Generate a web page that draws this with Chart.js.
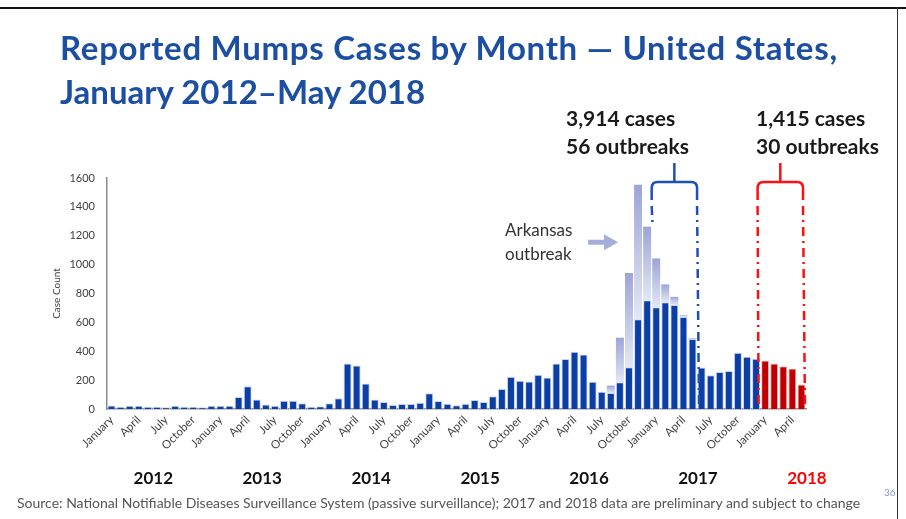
<!DOCTYPE html>
<html>
<head>
<meta charset="utf-8">
<script src="https://cdn.jsdelivr.net/npm/chart.js@4/dist/chart.umd.min.js"></script>
<style>
  body { margin: 0; background: #fff; }
  #wrap { position: relative; width: 906px; height: 519px; overflow: hidden; font-family: Lato, "Open Sans", sans-serif; }
  canvas { position: absolute; left: 0; top: 0; }
  .txt { position: absolute; white-space: nowrap; }
  #title { left: 60px; top: 25px; font-size: 33px; line-height: 44px; font-weight: bold; color: #1c4fa1; }
  #title .l1 { letter-spacing: 0.7px; }
  .note { font-size: 21px; line-height: 28px; font-weight: bold; color: #1a1a1a; top: 104px; }
  #ark { left: 505px; top: 218px; font-size: 17px; line-height: 24px; color: #333; }
  #source { left: 17px; top: 494px; font-size: 14px; color: #555; }
  #page { left: 884px; top: 486px; font-size: 10px; color: #8a98c8; }
  #topline { position: absolute; left: 0; top: 7px; width: 906px; height: 2px; background: #111; }
  #rightline { position: absolute; left: 897px; top: 7px; width: 1px; height: 512px; background: #333; }
</style>
</head>
<body>
<div id="wrap">
  <canvas id="chart" width="906" height="519"></canvas>
  <div id="topline"></div>
  <div id="rightline"></div>
  <div id="title" class="txt"><span class="l1">Reported Mumps Cases by Month — United States,</span><br>January 2012–May 2018</div>
  <div class="txt note" style="left:566px">3,914 cases<br>56 outbreaks</div>
  <div class="txt note" style="left:756px">1,415 cases<br>30 outbreaks</div>
  <div id="ark" class="txt">Arkansas<br>outbreak</div>
  <div id="source" class="txt">Source: National Notifiable Diseases Surveillance System (passive surveillance); 2017 and 2018 data are preliminary and subject to change</div>
  <div id="page" class="txt">36</div>
</div>
<script>
// monthly case counts
const years = [2012, 2013, 2014, 2015, 2016, 2017, 2018];
const monthNames = ["January","February","March","April","May","June","July","August","September","October","November","December"];
const tickLabels = ["January", "April", "July", "October"];
const yTicks = [0, 200, 400, 600, 800, 1000, 1200, 1400, 1600];

const cases2012 = [25, 16, 23, 23, 16, 16, 12, 23, 16, 16, 12, 23];
const cases2013 = [23, 23, 83, 158, 65, 32, 23, 58, 58, 39, 16, 19];
const cases2014 = [39, 74, 315, 301, 176, 65, 49, 28, 35, 35, 44, 109];
const cases2015 = [56, 37, 26, 37, 63, 49, 88, 139, 223, 195, 190, 237];
const cases2016 = [218, 315, 346, 397, 378, 188, 120, 110, 186, 290, 621, 753];
const cases2017 = [705, 740, 721, 638, 485, 288, 234, 257, 264, 389, 362, 348];
const cases2018 = [336, 315, 296, 280, 170];
// Arkansas outbreak share, Aug 2016 - May 2017
const arkansas2016 = [0, 0, 0, 0, 0, 0, 0, 52, 308, 652, 933, 510];
const arkansas2017 = [338, 123, 56, 11, 5, 0, 0, 0, 0, 0, 0, 0];

// build the series
const categories = [];
years.forEach(y => {
  const n = y === 2018 ? cases2018.length : 12;
  for (let m = 0; m < n; m++) categories.push(monthNames[m] + " " + y);
});
const prelim = cases2012.concat(cases2013, cases2014, cases2015, cases2016, cases2017);
const baseData = prelim.concat(cases2018.map(() => null));
const arkData = new Array(48).fill(0).concat(arkansas2016, arkansas2017, cases2018.map(() => 0));
const redData = prelim.map(() => null).concat(cases2018);

// light bars fade towards the bottom
function arkColor(ctx) {
  const chart = ctx.chart;
  const ys = chart.scales.y;
  const i = ctx.dataIndex;
  if (!ys || !chart.chartArea || !arkData[i]) return "#a9b1dc";
  const top = ys.getPixelForValue(baseData[i] + arkData[i]);
  const bot = ys.getPixelForValue(baseData[i]);
  if (!isFinite(top) || !isFinite(bot) || bot - top < 1) return "#a9b1dc";
  const g = chart.ctx.createLinearGradient(0, top, 0, bot);
  g.addColorStop(0, "#9ca5d6");
  g.addColorStop(1, "#e4e7f5");
  return g;
}

// brackets, dash-dot lines, arrow and year labels
const extras = {
  id: "extras",
  afterDatasetsDraw(chart) {
    const c = chart.ctx, xs = chart.scales.x, ys = chart.scales.y;
    const half = (xs.getPixelForValue(1) - xs.getPixelForValue(0)) / 2;
    const edge = i => xs.getPixelForValue(i) - half;
    const base = ys.getPixelForValue(0);

    function bracket(x1, x2, color, leftStop) {
      const yb = 182, yTop = 163, yEnd = 200, r = 6;
      c.save();
      c.strokeStyle = color;
      c.lineWidth = 2.5;
      c.beginPath();
      c.moveTo(x1, yEnd);
      c.lineTo(x1, yb + r);
      c.quadraticCurveTo(x1, yb, x1 + r, yb);
      c.lineTo(x2 - r, yb);
      c.quadraticCurveTo(x2, yb, x2, yb + r);
      c.lineTo(x2, yEnd);
      const mid = (x1 + x2) / 2;
      c.moveTo(mid, yb);
      c.lineTo(mid, yTop);
      c.stroke();
      c.setLineDash([9, 5, 2, 5]);
      c.beginPath();
      c.moveTo(x1, yEnd + 6);
      c.lineTo(x1 + 1, leftStop);
      c.moveTo(x2, yEnd + 6);
      c.lineTo(x2 + 2, base);
      c.stroke();
      c.restore();
    }
    const dec16 = 59;
    bracket(edge(60), edge(65), "#1f4fb2", ys.getPixelForValue(baseData[dec16] + arkData[dec16]));
    bracket(edge(72) - 3, edge(77) - 3, "#ff1010", base);

    // arrow pointing at the Arkansas bars
    const ay = ys.getPixelForValue(1155);
    const ax1 = xs.getPixelForValue(52.5), ax2 = xs.getPixelForValue(55.8);
    c.save();
    c.fillStyle = "#a5aedb";
    c.fillRect(ax1, ay - 2.5, ax2 - ax1 - 13, 5);
    c.beginPath();
    c.moveTo(ax2 - 14, ay - 8);
    c.lineTo(ax2, ay);
    c.lineTo(ax2 - 14, ay + 8);
    c.closePath();
    c.fill();
    c.restore();

    // year labels under the month ticks
    c.save();
    c.font = "bold 17px Lato, 'Open Sans', sans-serif";
    c.textAlign = "center";
    c.textBaseline = "middle";
    years.forEach((y, k) => {
      c.fillStyle = y === 2018 ? "#ff0000" : "#111";
      c.fillText(String(y), xs.getPixelForValue(12 * k + 4.6), 479);
    });
    c.restore();
  }
};

new Chart(document.getElementById("chart"), {
  type: "bar",
  data: {
    labels: categories,
    datasets: [
      { label: "Cases", data: baseData, backgroundColor: "#0b3fa5", borderColor: "rgba(190,205,235,0.85)", borderWidth: 1 },
      { label: "Arkansas outbreak", data: arkData, backgroundColor: arkColor, borderWidth: 0 },
      { label: "2018", data: redData, backgroundColor: "#c00000", borderColor: "rgba(240,180,180,0.8)", borderWidth: 1 }
    ]
  },
  options: {
    responsive: false,
    devicePixelRatio: 1,
    animation: false,
    layout: { padding: { left: 47, right: 100, top: 178, bottom: 60 } },
    datasets: { bar: { barPercentage: 0.88, categoryPercentage: 1 } },
    plugins: { legend: { display: false }, tooltip: { enabled: false } },
    scales: {
      x: {
        stacked: true,
        grid: { display: false, drawTicks: false },
        border: { display: true, color: "#8c8c8c", width: 1.5 },
        afterFit: s => { s.height = 50; },
        ticks: {
          autoSkip: false,
          minRotation: 45,
          maxRotation: 45,
          padding: 4,
          color: "#404040",
          font: { family: "Lato, 'Open Sans', sans-serif", size: 11.5 },
          callback: (v, i) => (i % 3 === 0 ? tickLabels[(i / 3) % 4] : "")
        }
      },
      y: {
        stacked: true,
        min: 0,
        max: 1600,
        grid: { display: false, drawTicks: false },
        border: { display: true, color: "#8c8c8c", width: 1.5 },
        afterFit: s => { s.width = 60; },
        afterBuildTicks: s => { s.ticks = yTicks.map(v => ({ value: v })); },
        ticks: { padding: 12, color: "#404040", font: { family: "Lato, 'Open Sans', sans-serif", size: 11 }, callback: v => String(v) },
        title: { display: true, text: "Case Count", color: "#404040", font: { family: "Lato, 'Open Sans', sans-serif", size: 10 } }
      }
    }
  },
  plugins: [extras]
});
</script>
</body>
</html>
